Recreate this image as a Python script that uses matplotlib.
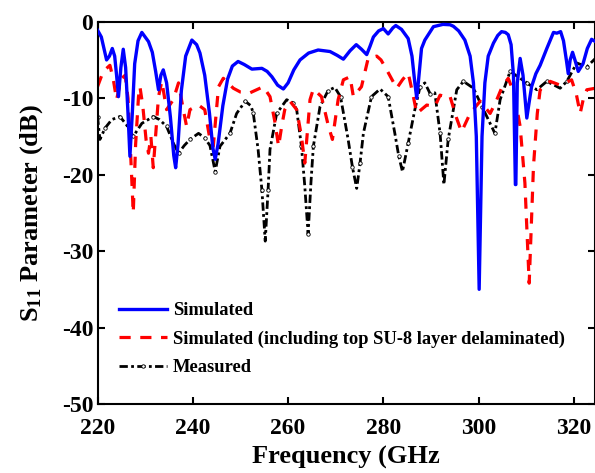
import matplotlib
matplotlib.use('Agg')
import matplotlib.pyplot as plt

plt.rcParams['font.family'] = ['Liberation Serif', 'DejaVu Serif']
plt.rcParams['font.weight'] = 'bold'
plt.rcParams['axes.unicode_minus'] = False
plt.rcParams['mathtext.fontset'] = 'custom'
plt.rcParams['mathtext.rm'] = 'Liberation Serif:bold'
plt.rcParams['mathtext.it'] = 'Liberation Serif:bold'
plt.rcParams['mathtext.bf'] = 'Liberation Serif:bold'

# Simulated (blue)
sim_f = [220.0, 220.8, 221.9, 222.5, 223.1, 223.6, 224.0, 224.4, 224.9, 225.4,
         225.9, 226.4, 226.8, 227.3, 227.8, 228.5, 229.3, 230.0, 230.7, 231.5,
         232.2, 232.8, 233.3, 233.8, 234.5, 235.3, 236.0, 236.4, 236.9, 237.6,
         238.5, 239.8, 240.8, 241.5, 242.5, 243.5, 244.2, 244.7, 245.3, 246.3,
         247.3, 248.3, 249.5, 250.8, 252.4, 254.5, 255.6, 256.6, 257.8, 259.0,
         260.0, 261.2, 262.5, 264.3, 266.3, 268.8, 270.3, 271.6, 273.0, 274.3,
         275.4, 276.5, 277.2, 277.9, 279.0, 280.0, 281.0, 282.0, 282.6, 283.8,
         285.2, 286.0, 286.6, 287.0, 287.4, 288.0, 288.7, 290.5, 292.5, 294.0,
         294.7, 295.8, 297.1, 298.2, 298.9, 299.5, 300.1, 300.7, 301.3, 302.0,
         303.1, 304.0, 304.8, 305.6, 306.2, 306.8, 307.3, 307.7, 307.8, 308.1,
         308.7, 309.3, 310.1, 310.6, 311.1, 312.0, 312.9, 314.3, 315.7, 316.4,
         317.2, 317.8, 318.4, 318.8, 319.2, 319.7, 320.2, 320.9, 321.9, 322.8,
         323.7, 324.5]
sim_db = [-1.1, -2.0, -5.0, -4.5, -3.5, -4.5, -7.0, -9.8, -6.0, -3.6,
          -6.0, -12.0, -17.6, -12.0, -5.5, -2.5, -1.4, -2.0, -2.6, -4.0,
          -6.5, -8.9, -7.0, -6.3, -8.0, -12.5, -17.5, -19.1, -16.0, -9.0,
          -4.5, -2.4, -3.0, -4.1, -7.0, -12.0, -16.5, -18.0, -16.0, -11.0,
          -7.5, -5.8, -5.2, -5.6, -6.2, -6.1, -6.5, -7.2, -8.3, -8.8,
          -8.0, -6.3, -5.0, -4.1, -3.7, -3.9, -4.4, -4.9, -3.8, -3.0,
          -3.6, -4.3, -3.2, -2.0, -1.2, -0.9, -1.6, -0.8, -0.5, -1.0,
          -2.2, -4.5, -8.0, -10.0, -7.5, -3.5, -2.4, -0.65, -0.35, -0.4,
          -0.6, -1.2, -2.4, -4.5, -8.0, -15.0, -35.0, -15.0, -8.0, -4.5,
          -2.8, -1.8, -1.3, -1.4, -1.7, -3.0, -7.0, -21.3, -21.3, -8.0,
          -4.8, -7.0, -12.6, -10.5, -8.5, -6.8, -5.7, -3.5, -1.4, -1.5,
          -1.3, -2.5, -5.0, -6.8, -5.0, -4.0, -5.0, -6.5, -5.5, -3.5,
          -2.3, -2.6]

# Simulated, top SU-8 layer delaminated (red)
dlm_f = [220.0, 221.2, 222.6, 223.3, 224.0, 224.6, 225.1, 225.8, 226.4, 227.0,
         227.5, 228.0, 228.6, 228.9, 229.5, 230.2, 230.7, 231.2, 231.7, 232.3,
         232.8, 233.5, 234.5, 235.9, 237.0, 238.0, 238.7, 239.4, 241.2, 242.5,
         243.6, 244.3, 244.9, 245.4, 246.4, 248.5, 250.0, 252.0, 254.8, 256.2,
         257.2, 258.0, 258.7, 259.3, 260.4, 261.8, 262.8, 263.5, 264.1, 264.6,
         265.3, 267.0, 268.4, 269.3, 270.5, 271.6, 273.0, 273.7, 275.4, 276.8,
         278.6, 279.5, 280.7, 282.8, 284.0, 285.2, 286.2, 287.0, 289.1, 290.8,
         291.9, 293.6, 294.0, 295.3, 296.4, 298.2, 300.3, 302.4, 303.6, 304.8,
         306.2, 307.5, 308.7, 309.7, 310.6, 311.5, 312.3, 312.9, 315.0, 317.1,
         319.5, 320.5, 321.3, 322.0, 322.7, 324.5]
dlm_db = [-8.5, -6.5, -5.7, -7.5, -10.2, -8.5, -7.4, -7.0, -10.0, -18.0,
          -25.0, -16.0, -9.8, -8.5, -11.0, -15.5, -17.2, -15.0, -19.1, -14.0,
          -9.8, -7.8, -11.5, -10.2, -8.0, -11.5, -13.7, -11.5, -10.9, -11.5,
          -15.4, -16.3, -12.0, -8.5, -7.4, -8.7, -9.2, -9.3, -8.5, -9.8,
          -13.0, -16.3, -13.5, -11.5, -10.4, -11.5, -15.0, -18.5, -14.0, -10.2,
          -8.8, -9.8, -13.5, -15.4, -10.2, -7.6, -7.2, -9.8, -8.5, -4.8,
          -4.5, -5.0, -6.3, -8.7, -7.6, -6.7, -9.5, -12.0, -10.9, -11.1,
          -9.6, -10.0, -9.8, -12.5, -14.4, -12.0, -10.4, -12.0, -10.5, -8.7,
          -7.4, -9.5, -13.7, -21.1, -34.2, -18.9, -12.0, -8.9, -7.8, -8.3,
          -7.6, -9.5, -12.0, -10.0, -8.9, -8.7]

# Measured (black)
mea_f = [220.0, 220.5, 221.6, 223.0, 224.7, 226.1, 227.5, 229.3, 231.7, 233.0,
         234.5, 236.0, 237.0, 238.2, 239.4, 241.2, 242.5, 243.6, 244.7, 245.7,
         247.8, 249.2, 251.0, 252.2, 252.7, 253.7, 254.5, 255.2, 255.8, 256.2,
         257.6, 259.7, 261.0, 261.8, 262.8, 263.5, 264.2, 264.8, 265.3, 266.7,
         268.4, 269.8, 271.0, 272.6, 273.5, 274.4, 275.1, 275.8, 277.5, 279.3,
         281.0, 282.4, 283.2, 284.0, 285.2, 286.6, 287.7, 288.7, 289.8, 290.8,
         291.9, 292.7, 293.6, 295.4, 296.8, 298.9, 300.7, 302.4, 303.4, 304.5,
         306.6, 308.7, 310.1, 312.2, 314.3, 317.1, 318.5, 320.6, 322.7, 324.5]
mea_db = [-12.4, -15.4, -13.9, -12.8, -12.4, -13.5, -15.0, -13.3, -12.4, -12.8,
          -13.7, -16.0, -17.2, -16.2, -15.4, -14.6, -15.2, -16.2, -19.6, -16.3,
          -14.6, -12.0, -10.4, -11.0, -12.0, -16.7, -22.0, -28.7, -22.0, -16.7,
          -12.0, -10.2, -10.6, -11.5, -16.3, -21.5, -27.8, -21.0, -16.3, -11.1,
          -9.0, -8.6, -9.8, -15.4, -19.0, -21.8, -18.5, -14.6, -9.8, -8.8,
          -9.8, -14.6, -17.5, -19.6, -15.9, -11.5, -8.5, -8.0, -9.4, -9.3,
          -14.6, -21.3, -15.4, -8.9, -7.8, -8.7, -11.1, -13.3, -14.6, -10.2,
          -6.5, -7.4, -8.0, -8.9, -7.8, -8.7, -7.8, -5.4, -5.9, -4.8]

x_ticks = [220, 240, 260, 280, 300, 320]
y_ticks = [0, -10, -20, -30, -40, -50]

fig = plt.figure(figsize=(5.95, 4.73), dpi=100)
ax = fig.add_axes([0.1639, 0.1459, 0.836, 0.8082])

ax.plot(sim_f, sim_db, color='blue', lw=2.4, label='Simulated', zorder=3)
ax.plot(dlm_f, dlm_db, color='red', lw=2.3, dashes=(3.5, 3),
        label='Simulated (including top SU-8 layer delaminated)', zorder=2)
ax.plot(mea_f, mea_db, color='black', lw=2.0, dashes=(3, 1.2, 1, 1.2),
        marker='o', ms=2.5, mfc='white', mec='black', mew=0.6, markevery=2,
        label='Measured', zorder=1)

ax.set_xlim(220, 324.4)
ax.set_ylim(-50, 0)
ax.set_xticks(x_ticks)
ax.set_yticks(y_ticks)
ax.tick_params(direction='in', length=5, width=1.5, top=True, right=True, labelsize=17)
ax.tick_params(axis='x', pad=10)
ax.tick_params(axis='y', pad=3)
for lab in ax.get_xticklabels() + ax.get_yticklabels():
    lab.set_fontweight('bold')
for sp in ax.spines.values():
    sp.set_linewidth(1.5)

ax.set_xlabel('Frequency (GHz', fontsize=19, fontweight='bold', labelpad=5)
ax.set_ylabel(r'S$_{11}$ Parameter (dB)', fontsize=19, fontweight='bold', labelpad=12)

leg = ax.legend(loc='lower left', bbox_to_anchor=(0.044, 0.072), frameon=False,
                fontsize=13.3, handlelength=2.6, handletextpad=0.3, labelspacing=0.62,
                borderpad=0, borderaxespad=0)
for t in leg.get_texts():
    t.set_fontweight('bold')

plt.savefig('out.png', dpi=100)
